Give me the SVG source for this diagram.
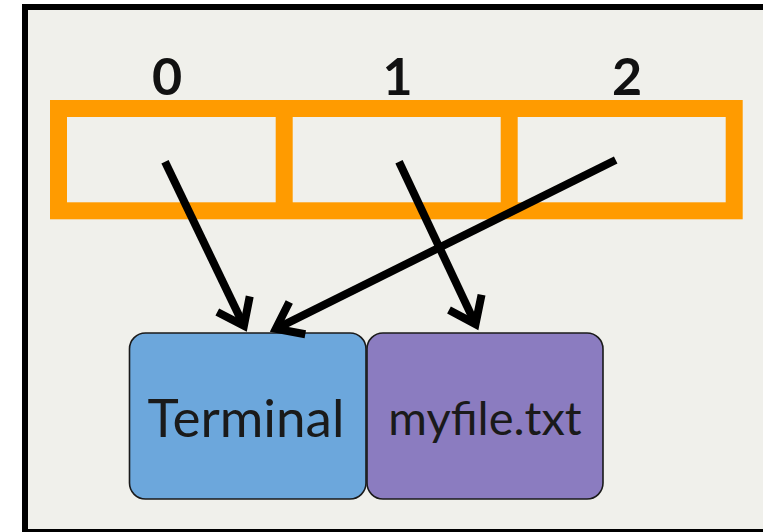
<svg xmlns="http://www.w3.org/2000/svg" width="763" height="532" viewBox="0 0 763 532">
  <style>
    .frame { fill: #f0f0eb; stroke: #000; stroke-width: 6; }
    .slots { fill: none; stroke: #ff9b00; stroke-width: 17; }
    .idx { font-family: Lato, "DejaVu Sans", sans-serif; font-weight: 700; font-size: 52px; fill: #111; text-anchor: middle; }
    .node rect { stroke: #1a1a1a; stroke-width: 1.6; }
    .node text { font-family: Lato, "DejaVu Sans", sans-serif; fill: #1a1a1a; text-anchor: middle; }
    .conn line { stroke: #000; stroke-width: 8; stroke-linecap: butt; }
  </style>
  <defs>
    <marker id="head" markerUnits="userSpaceOnUse" orient="auto" refX="0" refY="0" markerWidth="60" markerHeight="60" overflow="visible">
      <path d="M-24,-18 L0,0 L-24,18" fill="none" stroke="#000" stroke-width="8" stroke-linejoin="miter"/>
    </marker>
  </defs>

  <rect width="763" height="532" fill="#fff"/>
  <rect class="frame" x="25" y="7" width="760" height="525"/>

  <!-- array of three slots -->
  <g id="array">
    <rect class="slots" x="58.5" y="108.5" width="675.7" height="102.3"/>
    <line class="slots" x1="284.2" y1="108.5" x2="284.2" y2="210.8"/>
    <line class="slots" x1="509.2" y1="108.5" x2="509.2" y2="210.8"/>
    <text class="idx" x="167" y="95">0</text>
    <text class="idx" x="397.5" y="95">1</text>
    <text class="idx" x="627" y="95">2</text>
  </g>

  <g id="terminal" class="node">
    <rect x="129.5" y="333" width="236.5" height="166" rx="16" fill="#6ca7dc"/>
    <text x="246" y="436.5" font-size="53">Terminal</text>
  </g>

  <g id="myfile" class="node">
    <rect x="367" y="333" width="236" height="166" rx="16" fill="#8b7cc0"/>
    <text x="485" y="435" font-size="47">myfile.txt</text>
  </g>

  <g id="connectors" class="conn">
    <line x1="165" y1="161.7" x2="243.9" y2="325.8" marker-end="url(#head)"/>
    <line x1="399" y1="161.7" x2="475.5" y2="324.1" marker-end="url(#head)"/>
    <line x1="615.7" y1="160" x2="275.8" y2="328.8" marker-end="url(#head)"/>
  </g>
</svg>
